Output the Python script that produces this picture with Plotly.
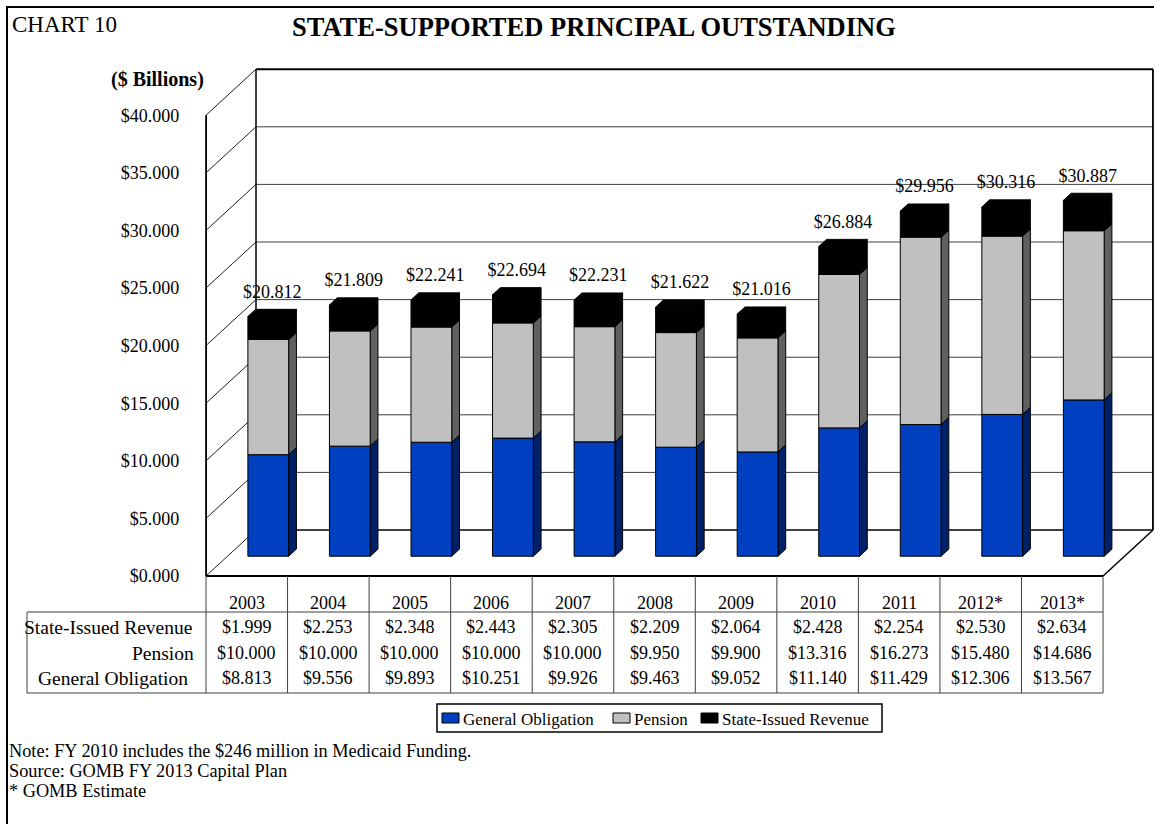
import plotly.graph_objects as go

# ---------------- data ----------------
years = ["2003", "2004", "2005", "2006", "2007", "2008", "2009", "2010", "2011", "2012*", "2013*"]
general_obligation = [8.813, 9.556, 9.893, 10.251, 9.926, 9.463, 9.052, 11.140, 11.429, 12.306, 13.567]
pension = [10.000, 10.000, 10.000, 10.000, 10.000, 9.950, 9.900, 13.316, 16.273, 15.480, 14.686]
state_issued_revenue = [1.999, 2.253, 2.348, 2.443, 2.305, 2.209, 2.064, 2.428, 2.254, 2.530, 2.634]
totals = [20.812, 21.809, 22.241, 22.694, 22.231, 21.622, 21.016, 26.884, 29.956, 30.316, 30.887]
y_ticks = [0, 5, 10, 15, 20, 25, 30, 35, 40]
series_names = ["General Obligation", "Pension", "State-Issued Revenue"]
table_rows = [("State-Issued Revenue", state_issued_revenue),
              ("Pension", pension),
              ("General Obligation", general_obligation)]

# ---------------- styling / geometry ----------------
W, H = 1154, 824
H_EFF = 817.0            # effective vertical pixel scale of the rendered page
FONT = "Liberation Serif"
front_colors = ["#0040C0", "#C0C0C0", "#000000"]
side_colors = ["#002068", "#606060", "#000000"]
top_colors = ["#0030A0", "#D8D8D8", "#000000"]

N = len(years)
PX_LEFT = 206.0
CAT_PX = 81.55
Y0_PX = 576.0
PX_PER_UNIT = 11.52
DX_PX, DY_PX = 50.0, 46.0
dxu = DX_PX / CAT_PX
dyu = DY_PX / PX_PER_UNIT
YMAX = 40
BW = 0.5
F0 = 0.43
BD = 0.155

pad_x, pad_y = 0.01, 0.3
xr = [-pad_x, N + dxu + pad_x]
yr = [-pad_y, YMAX + dyu + pad_y]


def px_x(v):
    return PX_LEFT + v * CAT_PX


def px_y(v):
    return Y0_PX - v * PX_PER_UNIT


def pp(x, y):
    return x / W, 1 - y / H_EFF


x_domain = [px_x(xr[0]) / W, min(1.0, px_x(xr[1]) / W)]
y_domain = [pp(0, px_y(yr[0]))[1], pp(0, px_y(yr[1]))[1]]

fig = go.Figure()

shapes = []


def dline(x0, y0, x1, y1, color="#303030", width=1, layer="below"):
    shapes.append(dict(type="line", xref="x", yref="y", x0=x0, y0=y0, x1=x1, y1=y1,
                       line=dict(color=color, width=width), layer=layer))


for v in y_ticks:
    if 0 < v < YMAX:
        dline(dxu, v + dyu, N + dxu, v + dyu, color="#404040", width=1)
    dline(0, v, dxu, v + dyu, color="#202020", width=1)
dline(dxu, dyu, N + dxu, dyu, color="#000000", width=1.5)
dline(dxu, YMAX + dyu, N + dxu, YMAX + dyu, color="#000000", width=2)
dline(dxu, dyu, dxu, YMAX + dyu, color="#000000", width=1.5)
dline(N + dxu, dyu, N + dxu, YMAX + dyu, color="#000000", width=2)
dline(0, 0, 0, YMAX, color="#000000", width=2)
dline(0, 0, N, 0, color="#000000", width=2)
dline(N, 0, N + dxu, dyu, color="#000000", width=1.5)

# ---------------- 3D stacked bars ----------------
series = [general_obligation, pension, state_issued_revenue]
bdx, bdy = BD * dxu, BD * dyu
ys = F0 * dyu
for s_idx, vals in enumerate(series):
    fx, fy, sx, sy, tx, ty = [], [], [], [], [], []
    for i in range(N):
        base = sum(series[k][i] for k in range(s_idx))
        top = base + vals[i]
        x0 = i + 0.5 - BW / 2 + F0 * dxu
        x1 = x0 + BW
        b, t = base + ys, top + ys
        fx += [x0, x1, x1, x0, x0, None]
        fy += [b, b, t, t, b, None]
        sx += [x1, x1 + bdx, x1 + bdx, x1, x1, None]
        sy += [b, b + bdy, t + bdy, t, b, None]
        tx += [x0, x1, x1 + bdx, x0 + bdx, x0, None]
        ty += [t, t, t + bdy, t + bdy, t, None]
    for xs_, ys_, col in [(sx, sy, side_colors[s_idx]), (tx, ty, top_colors[s_idx]),
                          (fx, fy, front_colors[s_idx])]:
        fig.add_trace(go.Scatter(x=xs_, y=ys_, mode="lines", fill="toself", fillcolor=col,
                                 line=dict(color="#000000", width=1), hoverinfo="skip",
                                 showlegend=False, name=series_names[s_idx]))

fig.add_trace(go.Scatter(
    x=[i + 0.5 + (F0 + BD / 2) * dxu for i in range(N)],
    y=[t + (F0 + BD) * dyu + 1.4 for t in totals],
    mode="text", text=[f"${t:.3f}" for t in totals], textposition="middle center",
    textfont=dict(family=FONT, size=18, color="black"), cliponaxis=False,
    showlegend=False, hoverinfo="skip"))

# ---------------- table ----------------
annotations = []
TBL_LEFT = 27
ROW_Y_HEAD = 603
ROW_TOP = 612
ROW_BOTTOM = 693
row_centers = [627, 653, 678]
tbl_color = "#404040"


def pline(x0, y0, x1, y1, color=tbl_color, width=1):
    a, b = pp(x0, y0)
    c, d = pp(x1, y1)
    shapes.append(dict(type="line", xref="paper", yref="paper", x0=a, y0=b, x1=c, y1=d,
                       line=dict(color=color, width=width), layer="above"))


for i in range(N + 1):
    pline(px_x(i), Y0_PX, px_x(i), ROW_BOTTOM)
pline(TBL_LEFT, ROW_TOP, px_x(N), ROW_TOP)
pline(TBL_LEFT, ROW_BOTTOM, px_x(N), ROW_BOTTOM)
pline(TBL_LEFT, ROW_TOP, TBL_LEFT, ROW_BOTTOM)

for i, yl in enumerate(years):
    annotations.append(dict(x=i + 0.5, y=pp(0, ROW_Y_HEAD)[1], xref="x", yref="paper",
                            text=yl, showarrow=False, xanchor="center", yanchor="middle",
                            font=dict(family=FONT, size=18, color="black")))
label_right = [194, 196, 190]
for r, (lab, vals) in enumerate(table_rows):
    yc = pp(0, row_centers[r])[1]
    annotations.append(dict(x=pp(label_right[r], 0)[0], y=yc, xref="paper", yref="paper",
                            text=lab, showarrow=False, xanchor="right", yanchor="middle",
                            font=dict(family=FONT, size=19.5, color="black")))
    for i, v in enumerate(vals):
        annotations.append(dict(x=i + 0.5, y=yc, xref="x", yref="paper",
                                text=f"${v:.3f}", showarrow=False, xanchor="center",
                                yanchor="middle",
                                font=dict(family=FONT, size=18, color="black")))

# ---------------- legend (manual) ----------------
lx0, ly0 = pp(437, 704)
lx1, ly1 = pp(882, 732)
shapes.append(dict(type="rect", xref="paper", yref="paper", x0=lx0, y0=ly1, x1=lx1, y1=ly0,
                   line=dict(color="black", width=1.5), fillcolor="white", layer="above"))
leg_x = [442, 613, 701]
for k, name in enumerate(series_names):
    a, b = pp(leg_x[k], 713)
    c, d = pp(leg_x[k] + 17, 723)
    shapes.append(dict(type="rect", xref="paper", yref="paper", x0=a, y0=d, x1=c, y1=b,
                       line=dict(color="black", width=1), fillcolor=front_colors[k],
                       layer="above"))
    tx_, ty_ = pp(leg_x[k] + 19, 719)
    annotations.append(dict(x=tx_, y=ty_, xref="paper", yref="paper", text=name,
                            showarrow=False, xanchor="left", yanchor="middle",
                            font=dict(family=FONT, size=17, color="black")))


def ptext(x, y, text, size, anchor="left"):
    a, b = pp(x, y)
    annotations.append(dict(x=a, y=b, xref="paper", yref="paper", text=text, showarrow=False,
                            xanchor=anchor, yanchor="middle",
                            font=dict(family=FONT, size=size, color="black")))


ptext(10, 25, "CHART 10", 23)
ptext(594, 27, "<b>STATE-SUPPORTED PRINCIPAL OUTSTANDING</b>", 26.5, anchor="center")
ptext(206, 80, "<b>($ Billions)</b>", 20, anchor="right")
ptext(7, 751, "Note: FY 2010 includes the $246 million in Medicaid Funding.", 18.3)
ptext(7, 771, "Source: GOMB FY 2013 Capital Plan", 18.3)
ptext(7, 791, "* GOMB Estimate", 18.3)

a, b = pp(7, 7)
c, d = pp(1170, 840)
shapes.append(dict(type="rect", xref="paper", yref="paper", x0=a, y0=d, x1=c, y1=b,
                   line=dict(color="black", width=2), layer="above"))

fig.update_layout(
    width=W, height=H, margin=dict(l=0, r=0, t=0, b=0),
    paper_bgcolor="white", plot_bgcolor="rgba(0,0,0,0)", showlegend=False,
    font=dict(family=FONT, color="black", size=18),
    xaxis=dict(range=xr, domain=x_domain, visible=False, fixedrange=True),
    yaxis=dict(range=yr, domain=y_domain, tickvals=y_ticks,
               ticktext=[f"${v:.3f}" for v in y_ticks], showgrid=False, zeroline=False,
               showline=False, ticks="", ticklabelstandoff=25,
               tickfont=dict(family=FONT, size=18, color="black"), fixedrange=True),
    shapes=shapes, annotations=annotations,
)

fig.write_html("out.html")
